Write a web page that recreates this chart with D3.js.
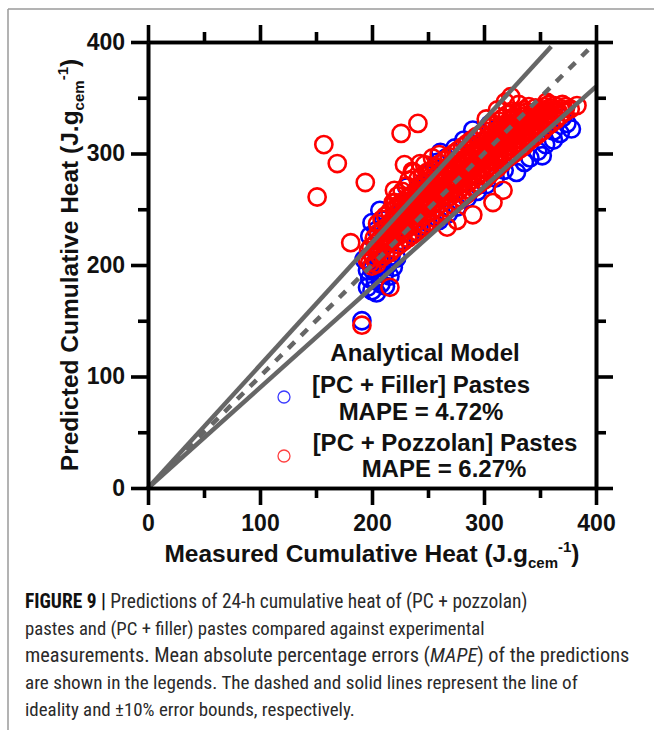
<!DOCTYPE html>
<html><head><meta charset="utf-8">
<script src="https://cdn.jsdelivr.net/npm/d3@7/dist/d3.min.js"></script>
<style>html,body{margin:0;padding:0;background:#fff;}svg{display:block;}</style>
</head><body>
<svg id="chart" width="654" height="730"></svg>
<script>
// ---------- data ----------
const xTicksMajor = [0, 100, 200, 300, 400];
const yTicksMajor = [0, 100, 200, 300, 400];
const ticksMinor = [50, 150, 250, 350];

// [measured, predicted] for (PC + filler) pastes (blue)
const fillerPts = [
[196,180],[200,177],[204,175],[191,150],[198,188],[203,186],[208,183],[212,181],[200,196],[206,194],
[211,192],[216,190],[204,204],[209,202],[214,200],[219,198],[207,212],[212,210],[217,208],[222,206],
[200,238],[207,249],[231,270],[215,232],[222,245],[226,252],[234,262],[240,268],[246,274],[252,283],
[258,292],[261,301],[266,296],[274,305],[282,312],[290,321],[298,318],[305,326],[312,323],[226,222],
[234,228],[242,234],[250,238],[260,240],[268,246],[276,252],[285,260],[294,266],[302,272],[310,278],
[318,285],[329,283],[336,292],[341,296],[348,302],[355,308],[362,312],[368,318],[374,327],[378,322],
[352,298],[362,320],[370,332],[196,195],[193,205],[198,226],[204,231],[210,240]
];

// [measured, predicted] for (PC + pozzolan) pastes (red)
const pozzolanPts = [
[196,204],[197,213],[200,199],[201,207],[199,216],[202,224],
[204,201],[205,210],[203,219],[206,229],[205,237],
[208,206],[209,214],[207,223],[210,232],[209,241],
[212,209],[213,218],[211,226],[214,235],[212,244],
[216,211],[217,221],[215,230],[218,238],[216,248],[219,256],
[220,215],[221,225],[219,233],[222,242],[220,250],[223,262],
[224,218],[225,227],[223,236],[226,245],[224,254],[227,266],
[228,221],[229,230],[227,240],[230,248],[228,257],[231,271],
[232,224],[233,234],[231,243],[234,251],[232,260],[233,276],
[236,227],[237,236],[235,246],[238,254],[236,263],[237,283],
[240,230],[241,239],[239,248],[242,258],[240,267],[241,277],
[244,233],[245,243],[243,251],[246,261],[244,270],[245,280],
[248,236],[249,246],[247,255],[250,264],[248,273],[249,283],[247,290],
[252,239],[253,248],[251,258],[254,267],[252,276],[253,285],
[256,242],[257,251],[255,261],[258,270],[256,279],[257,288],
[260,245],[261,255],[259,264],[262,273],[260,282],[261,291],
[264,248],[265,258],[263,267],[266,276],[264,285],[265,294],
[268,251],[269,261],[267,270],[270,279],[268,288],[269,297],
[272,254],[273,264],[271,273],[274,282],[272,291],[273,300],
[276,257],[277,266],[275,276],[278,285],[276,294],[277,303],
[280,260],[281,270],[279,279],[282,288],[280,297],[281,306],
[284,263],[285,273],[283,282],[286,291],[284,300],[285,309],
[288,267],[289,276],[287,285],[290,294],[288,303],[289,312],
[292,270],[293,279],[291,288],[294,297],[292,306],[293,315],
[296,273],[297,282],[295,291],[298,300],[296,309],[297,317],
[300,276],[301,285],[299,294],[302,303],[300,312],[301,320],
[304,280],[305,289],[303,298],[306,307],[304,315],[305,323],
[308,284],[309,293],[307,301],[310,310],[308,318],[309,326],
[312,287],[313,296],[311,305],[314,313],[312,321],[313,329],
[316,291],[317,300],[315,308],[318,316],[316,324],[317,332],
[320,295],[321,303],[319,311],[322,319],[320,327],[321,335],
[324,298],[325,306],[323,314],[326,322],[324,330],[325,338],
[328,301],[329,309],[327,317],[330,325],[328,333],
[332,304],[333,312],[331,320],[334,328],[332,336],
[336,307],[337,315],[335,323],[338,331],[336,339],
[340,311],[341,319],[339,327],[342,335],[340,342],
[344,314],[345,322],[343,330],[346,337],
[348,317],[349,325],[347,332],[350,339],
[352,320],[353,328],[351,335],[354,342],
[356,324],[357,331],[355,338],[358,344],
[360,327],[361,334],[359,341],
[364,330],[365,337],[363,343],
[368,334],[369,340],
[372,337],[373,342],
[214,222],[218,230],[222,237],[226,240],[230,245],[234,247],[238,251],[242,253],[246,258],[250,260],
[254,264],[258,266],[262,270],[266,272],[270,276],[274,278],[278,282],[282,284],[286,288],[290,290],
[294,294],[298,296],[302,300],[306,303],[310,307],[314,309],[318,313],[322,316],[326,320],[330,322],
[334,326],[338,328],[342,332],[346,334],[350,337],[354,339],[358,336],[362,339],[366,338],
[218,240],[222,246],[226,251],[230,253],[234,257],[238,259],[242,263],[246,265],[250,270],[254,272],
[258,276],[262,278],[266,282],[270,284],[274,288],[278,290],[282,294],[286,296],[290,300],[294,302],
[298,306],[302,308],[306,312],[310,314],[314,318],[318,321],[322,325],[326,327],[330,331],[334,333],
[338,337],
[222,228],[226,231],[230,236],[234,238],[238,242],[242,244],[246,249],[250,251],[254,255],[258,257],
[262,261],[266,263],[270,267],[274,269],[278,273],[282,275],[286,279],[290,281],[294,285],[298,287],
[302,291],[306,294],[310,298],[314,300],[318,305],[322,307],[326,311],[330,313],[334,317],[338,319],
[342,324],[346,326],[350,330],[354,331],[358,334],
[157,308],[169,291],[194,274],[151,261],[181,220],[226,318],[241,327],[216,180],[191,146],[229,290],
[220,267],[221,256],[243,291],[236,284],[198,202],[290,245],[308,256],[267,234],[276,240],[317,267],
[260,299],[254,296],[319,346],[324,351],[331,344],[356,346],[370,344],[383,343],[377,340],[346,341],
[312,339],[302,331]
];

// reference lines: ideality (dashed), +10% and -10% bounds (solid)
const lineIdeal = [[0,0],[393,393]];
const lineUpper = [[0,0],[360,396]];
const lineLower = [[0,0],[400,360]];

const legendTitle = "Analytical Model";
const legendSeries = [
  {name: "[PC + Filler] Pastes", mape: "MAPE = 4.72%", color: "#3b3bff"},
  {name: "[PC + Pozzolan] Pastes", mape: "MAPE = 6.27%", color: "#ff4040"}
];

const captionBold = "FIGURE 9 |";
const captionLines = [
  " Predictions of 24-h cumulative heat of (PC + pozzolan)",
  "pastes and (PC + filler) pastes compared against experimental",
  "measurements. Mean absolute percentage errors (MAPE) of the predictions",
  "are shown in the legends. The dashed and solid lines represent the line of",
  "ideality and \u00b110% error bounds, respectively."
];

// ---------- drawing ----------
const svg = d3.select("#chart");
const x = d3.scaleLinear().domain([0, 400]).range([148, 596]);
const y = d3.scaleLinear().domain([0, 400]).range([488, 42]);
const bold = "'Liberation Sans', Arial, sans-serif";

// outer frame
svg.append("line").attr("x1", 8).attr("x2", 654).attr("y1", 9).attr("y2", 9)
  .attr("stroke", "#9a9a9a").attr("stroke-width", 1.5);
svg.append("line").attr("x1", 8).attr("x2", 8).attr("y1", 9).attr("y2", 730)
  .attr("stroke", "#9a9a9a").attr("stroke-width", 1.5);

// points
const R = 8.6;
svg.append("g").selectAll("circle").data(fillerPts).join("circle")
  .attr("cx", d => x(d[0])).attr("cy", d => y(d[1])).attr("r", R)
  .attr("fill", "none").attr("stroke", "#0000ff").attr("stroke-width", 2.6);
svg.append("g").selectAll("circle").data(pozzolanPts).join("circle")
  .attr("cx", d => x(d[0])).attr("cy", d => y(d[1])).attr("r", R)
  .attr("fill", "none").attr("stroke", "#ff0000").attr("stroke-width", 2.6);

// lines
const lg = d3.line().x(d => x(d[0])).y(d => y(d[1]));
svg.append("path").attr("d", lg(lineUpper)).attr("stroke", "#666").attr("stroke-width", 4.5).attr("fill", "none");
svg.append("path").attr("d", lg(lineLower)).attr("stroke", "#666").attr("stroke-width", 4.5).attr("fill", "none");
svg.append("path").attr("d", lg(lineIdeal)).attr("stroke", "#666").attr("stroke-width", 4.5)
  .attr("stroke-dasharray", "9,9").attr("fill", "none");

// axes
function styleAxis(g) {
  g.select(".domain").attr("stroke", "#000").attr("stroke-width", 3.6);
  g.selectAll(".tick line").attr("stroke", "#000").attr("stroke-width", 3.6);
  g.selectAll("text").attr("font-family", bold).attr("font-weight", "bold")
    .attr("font-size", 23).attr("fill", "#111");
}
const TK = 17, TKm = 10;
svg.append("g").attr("transform", "translate(0,488)")
  .call(d3.axisBottom(x).tickValues(xTicksMajor).tickSize(TK).tickSizeOuter(0).tickPadding(10).tickFormat(d3.format("d")))
  .call(styleAxis);
svg.append("g").attr("transform", "translate(0,488)")
  .call(d3.axisBottom(x).tickValues(ticksMinor).tickSize(TKm).tickSizeOuter(0).tickFormat(""))
  .call(styleAxis);
svg.append("g").attr("transform", "translate(0,42)")
  .call(d3.axisTop(x).tickValues(xTicksMajor).tickSize(TK).tickSizeOuter(0).tickFormat(""))
  .call(styleAxis);
svg.append("g").attr("transform", "translate(0,42)")
  .call(d3.axisTop(x).tickValues(ticksMinor).tickSize(TKm).tickSizeOuter(0).tickFormat(""))
  .call(styleAxis);
svg.append("g").attr("transform", "translate(148,0)")
  .call(d3.axisLeft(y).tickValues(yTicksMajor).tickSize(TK).tickSizeOuter(0).tickPadding(6).tickFormat(d3.format("d")))
  .call(styleAxis);
svg.append("g").attr("transform", "translate(148,0)")
  .call(d3.axisLeft(y).tickValues(ticksMinor).tickSize(TKm).tickSizeOuter(0).tickFormat(""))
  .call(styleAxis);
svg.append("g").attr("transform", "translate(596,0)")
  .call(d3.axisRight(y).tickValues(yTicksMajor).tickSize(TK).tickSizeOuter(0).tickFormat(""))
  .call(styleAxis);
svg.append("g").attr("transform", "translate(596,0)")
  .call(d3.axisRight(y).tickValues(ticksMinor).tickSize(TKm).tickSizeOuter(0).tickFormat(""))
  .call(styleAxis);

// axis titles
function unitTitle(t, main) {
  t.attr("font-family", bold).attr("font-weight", "bold").attr("font-size", 24.5).attr("fill", "#111");
  t.append("tspan").text(main + " (J.g");
  t.append("tspan").attr("font-size", 15).attr("dy", 6).text("cem");
  t.append("tspan").attr("font-size", 15).attr("dy", -16).text("-1");
  t.append("tspan").attr("dy", 10).text(")");
}
svg.append("text").attr("x", 372).attr("y", 562).attr("text-anchor", "middle")
  .call(t => unitTitle(t, "Measured Cumulative Heat"));
svg.append("text").attr("transform", "translate(78,265) rotate(-90)").attr("text-anchor", "middle")
  .call(t => unitTitle(t, "Predicted Cumulative Heat"));

// legend
const lgText = (txt, cx, cy) => svg.append("text").attr("x", cx).attr("y", cy).attr("text-anchor", "middle")
  .attr("font-family", bold).attr("font-weight", "bold").attr("font-size", 24).attr("fill", "#111").text(txt);
lgText(legendTitle, 425, 361);
lgText(legendSeries[0].name, 421, 393);
lgText(legendSeries[0].mape, 421, 420);
lgText(legendSeries[1].name, 445, 451);
lgText(legendSeries[1].mape, 444, 477);
svg.append("g").selectAll("circle").data(legendSeries).join("circle")
  .attr("cx", 284).attr("cy", (d, i) => i === 0 ? 397 : 456).attr("r", 6)
  .attr("fill", "none").attr("stroke", d => d.color).attr("stroke-width", 1.3);

// caption
const capFont = "'Liberation Sans Narrow', 'Roboto Condensed', Roboto, 'Liberation Sans', sans-serif";
const capBase = [608, 635, 662, 689, 716];
const capEnd = [528, 485, 630, 578, 355];
captionLines.forEach((ln, i) => {
  const t = svg.append("text").attr("x", 25).attr("y", capBase[i])
    .attr("font-family", capFont).attr("font-size", 18.5).attr("fill", "#2a2a2a");
  if (i === 0) {
    t.append("tspan").attr("font-weight", "bold").attr("fill", "#111").text(captionBold);
    t.append("tspan").text(ln);
  } else if (i === 2) {
    const parts = ln.split("MAPE");
    t.append("tspan").text(parts[0]);
    t.append("tspan").attr("font-style", "italic").text("MAPE");
    t.append("tspan").text(parts[1]);
  } else {
    t.text(ln);
  }
  const w = t.node().getComputedTextLength();
  const target = capEnd[i] - 25;
  if (w > 0) t.attr("font-size", 18.5 * target / w);
});
</script>
</body></html>
